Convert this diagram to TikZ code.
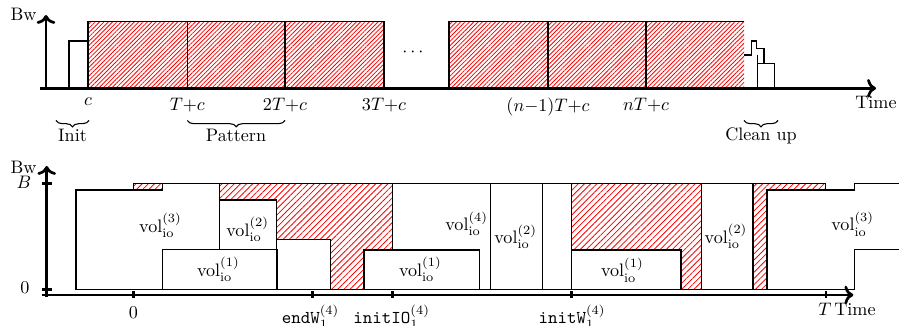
\documentclass[tikz,border=0pt]{standalone}
\usetikzlibrary{patterns.meta,decorations.pathreplacing,arrows.meta}
\begin{document}
\begin{tikzpicture}[x=0.5525pt,y=-0.5525pt,
  axis/.style={line width=1.5pt},
  tick/.style={line width=1.5pt},
  box/.style={draw=black,line width=0.6pt,fill=white},
  edge/.style={line width=0.6pt},
  hatchA/.style={pattern={Lines[angle=45,distance=1.7pt,line width=0.45pt]},pattern color=red},
  hatchB/.style={pattern={Lines[angle=45,distance=2.4pt,line width=0.45pt]},pattern color=red},
  brc/.style={decorate,decoration={brace,mirror,amplitude=3.5pt},line width=0.6pt},
  vol/.style={inner sep=0pt},
  ylab/.style={inner sep=0pt}]
\useasboundingbox (0,0) rectangle (899,326);

% ================= top panel =================
\fill[hatchA] (88,21.7) rectangle (384,88.3);
\fill[hatchA] (449,21.7) rectangle (744,88.3);
\draw[edge] (88,88.3) -- (88,21.7) -- (384,21.7) -- (384,88.3);
\draw[edge] (187.3,21.7) -- (187.3,88.3);
\draw[edge] (285,21.7) -- (285,88.3);
\draw[edge] (449,88.3) -- (449,21.7) -- (744,21.7);
\draw[edge] (548,21.7) -- (548,88.3);
\draw[edge] (646,21.7) -- (646,88.3);
\draw[box] (69,88.3) rectangle (88,41);
% clean up
\draw[edge] (744,55) -- (751.7,55) -- (751.7,41) -- (756.7,41) -- (756.7,48.3) -- (764,48.3) -- (764,63.3);
\draw[edge] (757.7,55) -- (757.7,88.3);
\draw[box] (757.7,63.3) rectangle (774.3,88.3);

\node (dots) at (413,52) {$\cdots$};

\coordinate (ta0) at (40,88.3);
\coordinate (ta1) at (876,88.3);
\coordinate (tv0) at (46,88.3);
\coordinate (tv1) at (46,15);
\draw[axis,->] (ta0) -- (ta1);
\draw[axis,->] (tv0) -- (tv1);

\node[anchor=base,ylab] (tbw) at (23.5,20.3) {Bw};
\node[anchor=base] (ttime) at (876,108.3) {Time};
\node[anchor=north] (lc)  at (88,91.5)  {$c$};
\node[anchor=north] (l1)  at (187.3,91.5) {$T{+}c$};
\node[anchor=north] (l2)  at (285,91.5) {$2T{+}c$};
\node[anchor=north] (l3)  at (384,91.5) {$3T{+}c$};
\node[anchor=north] (l4)  at (548,91.5) {$(n{-}1)T{+}c$};
\node[anchor=north] (l5)  at (646,91.5) {$nT{+}c$};

\coordinate (bi0) at (56,120.5);  \coordinate (bi1) at (89,120.5);
\coordinate (bp0) at (187.3,120.5); \coordinate (bp1) at (285,120.5);
\coordinate (bc0) at (744,120.5); \coordinate (bc1) at (778,120.5);
\draw[brc] (bi0) -- (bi1);
\draw[brc] (bp0) -- (bp1);
\draw[brc] (bc0) -- (bc1);
\node[anchor=base] (linit) at (72.5,141.5) {Init};
\node[anchor=base] (lpat) at (236,141.5) {Pattern};
\node[anchor=base] (lclean) at (761,141) {Clean up};

% ================= bottom panel =================
\draw[edge,hatchB] (133.3,183.3) rectangle (162.3,190);
\draw[box] (76,289.3) -- (76,190) -- (162.3,190) -- (162.3,183.3) -- (219.3,183.3) -- (219.3,289.3) -- cycle;
\draw[edge,hatchB] (219.3,183.3) -- (392.7,183.3) -- (392.7,289.3) -- (330.7,289.3) -- (330.7,239.3) -- (276.7,239.3) -- (276.7,200) -- (219.3,200) -- cycle;
\draw[box] (276.7,239.3) rectangle (330.7,289.3);
\draw[box] (219.3,200) rectangle (276.7,249.3);
\draw[box] (162.3,249.3) rectangle (277,289.3);
\draw[box] (392.7,183.3) rectangle (490.7,289.3);
\draw[box] (364,250) rectangle (479.3,289.3);
\draw[box] (490.7,183.3) rectangle (542.3,289.3);
\draw[box] (542.3,183.3) rectangle (571.7,289.3);
\draw[edge,hatchB] (571.7,183.3) rectangle (701.3,289.3);
\draw[box] (571.7,250) rectangle (681,289.3);
\draw[box] (701.3,183.3) rectangle (753,289.3);
\draw[edge,hatchB] (753,183.3) -- (825.5,183.3) -- (825.5,190) -- (767,190) -- (767,289.3) -- (753,289.3) -- cycle;
\draw[box] (767,289.3) -- (767,190) -- (854.3,190) -- (854.3,183.3) -- (910,183.3) -- (910,249.3) -- (854.3,249.3) -- (854.3,289.3) -- cycle;

\node[vol] (v3a) at (160.5,225.3) {$\mathrm{vol}_{\mathrm{io}}^{(3)}$};
\node[vol] (v2a) at (247.7,229.5) {$\mathrm{vol}_{\mathrm{io}}^{(2)}$};
\node[vol] (v1a) at (218.3,269.5) {$\mathrm{vol}_{\mathrm{io}}^{(1)}$};
\node[vol] (v4a) at (466.7,223.8) {$\mathrm{vol}_{\mathrm{io}}^{(4)}$};
\node[vol] (v1b) at (420.3,269.5) {$\mathrm{vol}_{\mathrm{io}}^{(1)}$};
\node[vol] (v2b) at (515.7,236.7) {$\mathrm{vol}_{\mathrm{io}}^{(2)}$};
\node[vol] (v1c) at (622.3,270) {$\mathrm{vol}_{\mathrm{io}}^{(1)}$};
\node[vol] (v2c) at (726,236.3) {$\mathrm{vol}_{\mathrm{io}}^{(2)}$};
\node[vol] (v3b) at (852.7,224) {$\mathrm{vol}_{\mathrm{io}}^{(3)}$};

\coordinate (ba0) at (41.7,295);
\coordinate (ba1) at (853.3,295);
\coordinate (bv0) at (46.7,297);
\coordinate (bv1) at (46.7,166);
\draw[axis,->] (ba0) -- (ba1);
\draw[axis,->] (bv0) -- (bv1);
\draw[tick] (41.7,183.3) -- (51.7,183.3);
\draw[tick] (41.7,289.3) -- (51.7,289.3);
\foreach \xx in {133.3,312.3,392.7,571.7,826}
  \draw[tick] (\xx,291.5) -- (\xx,298.5);

\node[anchor=base,ylab] (bbw) at (23.5,173.3) {Bw};
\node[anchor=base,ylab] (lB) at (24,188.3) {$B$};
\node[anchor=base,ylab] (lz) at (25,294) {$0$};
\node[anchor=base] (x0) at (133.3,318.3) {$0$};
\node[anchor=base] (xew) at (310.5,324) {\texttt{endW}$_1^{(4)}$};
\node[anchor=base] (xio) at (391.7,324) {\texttt{initIO}$_1^{(4)}$};
\node[anchor=base] (xiw) at (572,324) {\texttt{initW}$_1^{(4)}$};
\node[anchor=base] (xT) at (825,316) {$T$};
\node[anchor=base] (btime) at (855,315.7) {Time};
\end{tikzpicture}
\end{document}
